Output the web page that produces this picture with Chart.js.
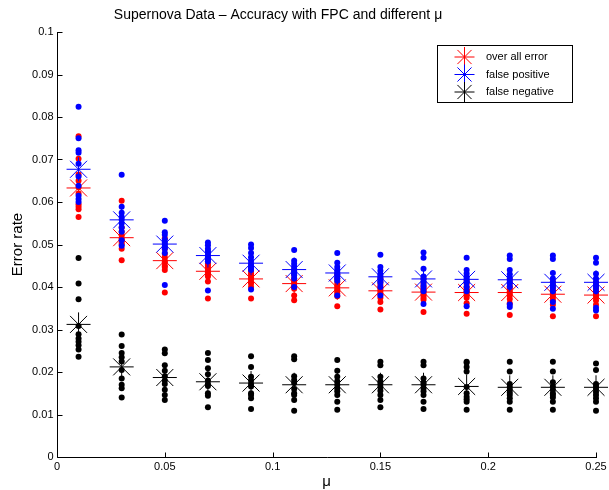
<!DOCTYPE html>
<html>
<head>
<meta charset="utf-8">
<script src="https://cdn.jsdelivr.net/npm/chart.js@4.4.1/dist/chart.umd.min.js"></script>
<style>
  html, body { margin: 0; padding: 0; background: #fff; }
  #wrap { width: 609px; height: 490px; }
</style>
</head>
<body>
<div id="wrap"><canvas id="errChart" width="609" height="490"></canvas></div>
<script>
// mu values on the x axis
const muValues = [0.01, 0.03, 0.05, 0.07, 0.09, 0.11, 0.13, 0.15, 0.17, 0.19, 0.21, 0.23, 0.25];

// individual runs, one row per mu
const overallSamples = [
    [0.0755, 0.0702, 0.0665, 0.0650, 0.0635, 0.0620, 0.0595, 0.0589, 0.0583, 0.0565],
    [0.0603, 0.0540, 0.0530, 0.0522, 0.0515, 0.0510, 0.0505, 0.0500, 0.0490, 0.0463],
    [0.0515, 0.0490, 0.0478, 0.0470, 0.0462, 0.0458, 0.0450, 0.0447, 0.0440, 0.0387],
    [0.0460, 0.0455, 0.0450, 0.0445, 0.0440, 0.0435, 0.0430, 0.0425, 0.0413, 0.0373],
    [0.0445, 0.0438, 0.0432, 0.0428, 0.0423, 0.0418, 0.0412, 0.0408, 0.0400, 0.0373],
    [0.0440, 0.0428, 0.0420, 0.0415, 0.0410, 0.0405, 0.0400, 0.0396, 0.0380, 0.0369],
    [0.0430, 0.0420, 0.0412, 0.0405, 0.0400, 0.0395, 0.0390, 0.0385, 0.0378, 0.0355],
    [0.0420, 0.0412, 0.0405, 0.0398, 0.0393, 0.0388, 0.0383, 0.0375, 0.0365, 0.0347],
    [0.0420, 0.0410, 0.0402, 0.0395, 0.0390, 0.0385, 0.0380, 0.0375, 0.0370, 0.0341],
    [0.0415, 0.0408, 0.0400, 0.0395, 0.0390, 0.0385, 0.0380, 0.0375, 0.0362, 0.0337],
    [0.0418, 0.0410, 0.0402, 0.0396, 0.0390, 0.0385, 0.0380, 0.0372, 0.0362, 0.0334],
    [0.0412, 0.0405, 0.0398, 0.0392, 0.0386, 0.0380, 0.0375, 0.0368, 0.0358, 0.0331],
    [0.0410, 0.0402, 0.0396, 0.0390, 0.0385, 0.0380, 0.0375, 0.0368, 0.0358, 0.0331]
];
const falsePosSamples = [
    [0.0824, 0.0750, 0.0722, 0.0716, 0.0690, 0.0660, 0.0638, 0.0615, 0.0607, 0.0600],
    [0.0664, 0.0589, 0.0575, 0.0565, 0.0558, 0.0550, 0.0540, 0.0530, 0.0510, 0.0497],
    [0.0556, 0.0529, 0.0523, 0.0512, 0.0505, 0.0500, 0.0495, 0.0490, 0.0480, 0.0405],
    [0.0505, 0.0498, 0.0490, 0.0485, 0.0480, 0.0475, 0.0470, 0.0465, 0.0460, 0.0392],
    [0.0500, 0.0492, 0.0480, 0.0470, 0.0462, 0.0455, 0.0450, 0.0445, 0.0440, 0.0394],
    [0.0487, 0.0462, 0.0455, 0.0448, 0.0442, 0.0437, 0.0432, 0.0428, 0.0420, 0.0400],
    [0.0480, 0.0457, 0.0447, 0.0440, 0.0435, 0.0430, 0.0425, 0.0420, 0.0415, 0.0380],
    [0.0476, 0.0447, 0.0438, 0.0430, 0.0425, 0.0420, 0.0415, 0.0410, 0.0400, 0.0380],
    [0.0481, 0.0469, 0.0443, 0.0425, 0.0418, 0.0412, 0.0405, 0.0398, 0.0390, 0.0360],
    [0.0469, 0.0440, 0.0432, 0.0425, 0.0420, 0.0415, 0.0410, 0.0400, 0.0390, 0.0355],
    [0.0474, 0.0466, 0.0440, 0.0430, 0.0422, 0.0415, 0.0408, 0.0400, 0.0359, 0.0353],
    [0.0474, 0.0466, 0.0433, 0.0420, 0.0412, 0.0405, 0.0398, 0.0390, 0.0365, 0.0349],
    [0.0469, 0.0457, 0.0431, 0.0420, 0.0412, 0.0405, 0.0398, 0.0390, 0.0351, 0.0345]
];
const falseNegSamples = [
    [0.0468, 0.0408, 0.0371, 0.0308, 0.0289, 0.0279, 0.0271, 0.0263, 0.0253, 0.0236],
    [0.0288, 0.0261, 0.0245, 0.0235, 0.0225, 0.0205, 0.0185, 0.0170, 0.0162, 0.0140],
    [0.0253, 0.0244, 0.0216, 0.0203, 0.0190, 0.0180, 0.0172, 0.0158, 0.0146, 0.0134],
    [0.0245, 0.0228, 0.0209, 0.0195, 0.0180, 0.0172, 0.0167, 0.0150, 0.0144, 0.0117],
    [0.0237, 0.0212, 0.0189, 0.0180, 0.0172, 0.0166, 0.0150, 0.0146, 0.0138, 0.0113],
    [0.0237, 0.0230, 0.0190, 0.0181, 0.0174, 0.0160, 0.0150, 0.0146, 0.0134, 0.0109],
    [0.0228, 0.0203, 0.0189, 0.0178, 0.0170, 0.0162, 0.0155, 0.0146, 0.0130, 0.0111],
    [0.0224, 0.0216, 0.0189, 0.0178, 0.0172, 0.0165, 0.0156, 0.0146, 0.0134, 0.0117],
    [0.0224, 0.0216, 0.0185, 0.0175, 0.0170, 0.0162, 0.0155, 0.0146, 0.0130, 0.0113],
    [0.0224, 0.0222, 0.0212, 0.0201, 0.0165, 0.0150, 0.0142, 0.0136, 0.0130, 0.0111],
    [0.0224, 0.0201, 0.0172, 0.0165, 0.0158, 0.0152, 0.0146, 0.0138, 0.0130, 0.0111],
    [0.0224, 0.0201, 0.0176, 0.0166, 0.0158, 0.0150, 0.0146, 0.0140, 0.0130, 0.0111],
    [0.0220, 0.0205, 0.0172, 0.0166, 0.0160, 0.0153, 0.0146, 0.0138, 0.0130, 0.0109]
];

// averages (the star markers)
const overallMean  = [0.0633, 0.0516, 0.0462, 0.0437, 0.0419, 0.0408, 0.0398, 0.0391, 0.0388, 0.0387, 0.0387, 0.0383, 0.0381];
const falsePosMean = [0.0677, 0.0558, 0.0501, 0.0474, 0.0456, 0.0441, 0.0433, 0.0424, 0.0419, 0.0418, 0.0417, 0.0411, 0.0411];
const falseNegMean = [0.0312, 0.0212, 0.0187, 0.0177, 0.0174, 0.0170, 0.0170, 0.0170, 0.0170, 0.0166, 0.0164, 0.0164, 0.0164];

const xTickValues = [0, 0.05, 0.1, 0.15, 0.2, 0.25];
const xTickLabels = ['0', '0.05', '0.1', '0.15', '0.2', '0.25'];
const yTickValues = [0, 0.01, 0.02, 0.03, 0.04, 0.05, 0.06, 0.07, 0.08, 0.09, 0.1];
const yTickLabels = ['0', '0.01', '0.02', '0.03', '0.04', '0.05', '0.06', '0.07', '0.08', '0.09', '0.1'];

const seriesNames = ['over all error', 'false positive', 'false negative'];
const seriesColors = ['#ff0000', '#0000ff', '#000000'];

const FONT = '"Liberation Sans", Arial, Helvetica, sans-serif';

function toPoints(samples) {
    const pts = [];
    samples.forEach((row, i) => row.forEach(v => pts.push({ x: muValues[i], y: v })));
    return pts;
}
function meanPoints(means) {
    return means.map((v, i) => ({ x: muValues[i], y: v }));
}

function dotSet(samples, color, order) {
    return {
        data: toPoints(samples),
        pointStyle: 'circle',
        pointRadius: 3,
        backgroundColor: color,
        borderWidth: 0,
        clip: false,
        order: order
    };
}
function starSet(means, color, order) {
    return {
        data: meanPoints(means),
        pointStyle: 'star',
        pointRadius: 12,
        borderColor: color,
        backgroundColor: color,
        borderWidth: 1,
        clip: false,
        order: order
    };
}

// MATLAB-like axes: inward ticks, labels, title and legend box
const matlabAxes = {
    id: 'matlabAxes',
    afterDraw(chart) {
        const ctx = chart.ctx;
        const area = chart.chartArea;
        const xs = chart.scales.x;
        const ys = chart.scales.y;
        const left = Math.round(area.left) + 0.5;
        const bottom = Math.round(area.bottom) + 0.5;
        const tick = 5;

        ctx.save();
        ctx.strokeStyle = '#000';
        ctx.lineWidth = 1;
        ctx.beginPath();
        ctx.moveTo(left, Math.round(area.top));
        ctx.lineTo(left, bottom);
        ctx.lineTo(Math.round(area.right) + 1, bottom);

        xTickValues.forEach(v => {
            const px = Math.round(xs.getPixelForValue(v)) + 0.5;
            ctx.moveTo(px, bottom);
            ctx.lineTo(px, bottom - tick);
        });
        yTickValues.forEach(v => {
            const py = Math.round(ys.getPixelForValue(v)) + 0.5;
            ctx.moveTo(left, py);
            ctx.lineTo(left + tick, py);
        });
        ctx.stroke();

        ctx.fillStyle = '#000';
        ctx.font = '11px ' + FONT;
        ctx.textAlign = 'center';
        ctx.textBaseline = 'top';
        xTickValues.forEach((v, i) => {
            ctx.fillText(xTickLabels[i], xs.getPixelForValue(v), bottom + 4);
        });
        ctx.textAlign = 'right';
        ctx.textBaseline = 'middle';
        yTickValues.forEach((v, i) => {
            ctx.fillText(yTickLabels[i], left - 4, ys.getPixelForValue(v));
        });

        // axis titles
        ctx.font = '15px ' + FONT;
        ctx.textAlign = 'center';
        ctx.textBaseline = 'middle';
        ctx.fillText('\u03bc', (area.left + area.right) / 2, 482);
        ctx.save();
        ctx.translate(18, (area.top + area.bottom) / 2);
        ctx.rotate(-Math.PI / 2);
        ctx.fillText('Error rate', 0, 0);
        ctx.restore();

        // chart title
        ctx.font = '14px ' + FONT;
        ctx.fillText('Supernova Data \u2013 Accuracy with FPC and different \u03bc', 278, 15);

        // legend
        ctx.fillStyle = '#fff';
        ctx.fillRect(437.5, 45.5, 135, 57);
        ctx.strokeStyle = '#000';
        ctx.strokeRect(437.5, 45.5, 135, 57);
        ctx.font = '11px ' + FONT;
        ctx.textAlign = 'left';
        const rows = [57, 74.5, 92];
        seriesNames.forEach((name, i) => {
            ctx.strokeStyle = seriesColors[i];
            ctx.fillStyle = seriesColors[i];
            Chart.helpers.drawPoint(ctx, { pointStyle: 'star', radius: 10, rotation: 0, borderWidth: 1 }, 464.5, rows[i]);
            ctx.fillStyle = '#000';
            ctx.fillText(name, 486, rows[i]);
        });
        ctx.restore();
    }
};

const ctxEl = document.getElementById('errChart').getContext('2d');
new Chart(ctxEl, {
    type: 'scatter',
    data: {
        datasets: [
            dotSet(overallSamples, seriesColors[0], 6),
            starSet(overallMean, seriesColors[0], 5),
            dotSet(falsePosSamples, seriesColors[1], 4),
            starSet(falsePosMean, seriesColors[1], 3),
            dotSet(falseNegSamples, seriesColors[2], 2),
            starSet(falseNegMean, seriesColors[2], 1)
        ]
    },
    options: {
        responsive: false,
        animation: false,
        events: [],
        layout: {
            padding: { left: 57, right: 12, top: 32, bottom: 33 }
        },
        scales: {
            x: { type: 'linear', min: 0, max: 0.25, display: false },
            y: { type: 'linear', min: 0, max: 0.1, display: false }
        },
        plugins: {
            legend: { display: false },
            tooltip: { enabled: false },
            title: { display: false }
        }
    },
    plugins: [matlabAxes]
});
</script>
</body>
</html>
